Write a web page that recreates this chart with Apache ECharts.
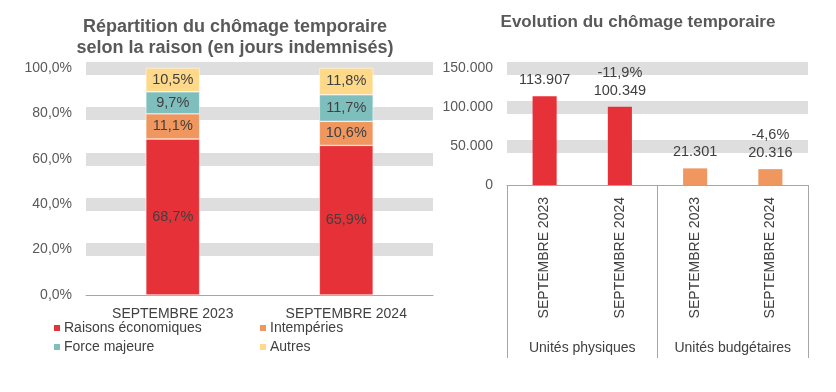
<!DOCTYPE html>
<html><head><meta charset="utf-8">
<script src="https://cdn.jsdelivr.net/npm/echarts@6/dist/echarts.min.js"></script>
<style>html,body{margin:0;padding:0;background:#fff}#c{width:836px;height:392px}</style>
</head><body><div id="c"></div>
<script>
// Left chart data
var leftCategories = ['SEPTEMBRE 2023', 'SEPTEMBRE 2024'];
var seriesNames = ['Raisons économiques', 'Intempéries', 'Force majeure', 'Autres'];
var raisonsEco = [68.7, 65.9];
var intemperies = [11.1, 10.6];
var forceMajeure = [9.7, 11.7];
var autres = [10.5, 11.8];
var seriesColors = ['#E73138', '#F0965F', '#7EBFBE', '#FED98A'];

// Right chart data
var rightCategories = ['SEPTEMBRE 2023', 'SEPTEMBRE 2024', 'SEPTEMBRE 2023', 'SEPTEMBRE 2024'];
var rightGroups = ['Unités physiques', 'Unités budgétaires'];
var rightValues = [113907, 100349, 21301, 20316];
var rightChanges = ['', '-11,9%', '', '-4,6%'];
var rightColors = ['#E73138', '#E73138', '#F0965F', '#F0965F'];

var FONT = '"Liberation Sans", Arial, sans-serif';
var chart = echarts.init(document.getElementById('c'));

function pct(v) { return v.toFixed(1).replace('.', ',') + '%'; }
function thousands(v) { return String(Math.round(v)).replace(/\B(?=(\d{3})+(?!\d))/g, '.'); }

var leftData = [raisonsEco, intemperies, forceMajeure, autres];
var series = leftData.map(function (arr, i) {
  return {
    name: seriesNames[i], type: 'bar', stack: 'a', xAxisIndex: 0, yAxisIndex: 0,
    data: arr, barWidth: '31%',
    itemStyle: { color: seriesColors[i], borderColor: '#fff', borderWidth: 0.5 },
    label: { show: true, position: 'inside', color: '#404040', fontSize: 14.5, fontFamily: FONT,
      formatter: function (p) { return pct(p.value); } }
  };
});
series.push({
  type: 'bar', xAxisIndex: 1, yAxisIndex: 1, barWidth: '32%',
  data: rightValues.map(function (v, i) { return { value: v, itemStyle: { color: rightColors[i] } }; }),
  label: { show: true, position: 'top', distance: 7, color: '#404040', fontSize: 14.5, lineHeight: 18, fontFamily: FONT,
    formatter: function (p) { var c = rightChanges[p.dataIndex]; return (c ? c + '\n' : '') + thousands(p.value); } }
});

var axisLbl = { color: '#595959', fontSize: 14, fontFamily: FONT };
var legendText = { color: '#404040', fontSize: 14, fontFamily: FONT, padding: [0, 0, 0, -2] };
chart.setOption({
  animation: false,
  textStyle: { fontFamily: FONT },
  title: [
    { text: 'Répartition du chômage temporaire\nselon la raison (en jours indemnisés)', left: 230, top: 12, textAlign: 'center',
      textStyle: { fontSize: 18, fontWeight: 'bold', color: '#595959', lineHeight: 21, fontFamily: FONT } },
    { text: 'Evolution du chômage temporaire', left: 633, top: 9, textAlign: 'center',
      textStyle: { fontSize: 17, fontWeight: 'bold', color: '#595959', fontFamily: FONT } }
  ],
  legend: [
    { data: [seriesNames[0], seriesNames[2]], orient: 'vertical', left: 52, top: 321, padding: 0, itemWidth: 8, itemHeight: 8, itemGap: 5,
      icon: 'rect', textStyle: legendText },
    { data: [seriesNames[1], seriesNames[3]], orient: 'vertical', left: 258, top: 321, padding: 0, itemWidth: 8, itemHeight: 8, itemGap: 5,
      icon: 'rect', textStyle: legendText }
  ],
  grid: [
    { left: 86, right: 403, top: 68, bottom: 97 },
    { left: 507, right: 28, top: 68, bottom: 207 }
  ],
  xAxis: [
    { type: 'category', gridIndex: 0, data: leftCategories,
      axisLine: { lineStyle: { color: '#A6A6A6' } }, axisTick: { show: false },
      axisLabel: { color: '#404040', fontSize: 14, fontFamily: FONT, margin: 12 } },
    { type: 'category', gridIndex: 1, data: rightCategories,
      axisLine: { lineStyle: { color: '#A6A6A6' } }, axisTick: { show: false },
      axisLabel: { color: '#404040', fontSize: 14, fontFamily: FONT, rotate: 90, margin: 12, interval: 0 } },
    { type: 'category', gridIndex: 1, data: rightGroups, position: 'bottom',
      axisLine: { show: false },
      axisTick: { show: true, length: 173, interval: 0, lineStyle: { color: '#A6A6A6' } },
      axisLabel: { color: '#404040', fontSize: 14, fontFamily: FONT, margin: 156, interval: 0 } }
  ],
  yAxis: [
    { type: 'value', gridIndex: 0, min: 0, max: 100, interval: 20,
      axisLine: { show: false }, axisTick: { show: false },
      splitLine: { show: true, showMinLine: false, lineStyle: { color: '#DEDEDE', width: 13 } },
      axisLabel: Object.assign({ margin: 14, formatter: function (v) { return pct(v); } }, axisLbl) },
    { type: 'value', gridIndex: 1, min: 0, max: 150000, interval: 50000,
      axisLine: { show: false }, axisTick: { show: false },
      splitLine: { show: true, showMinLine: false, lineStyle: { color: '#DEDEDE', width: 13 } },
      axisLabel: Object.assign({ margin: 14, formatter: function (v) { return thousands(v); } }, axisLbl) }
  ],
  series: series
});
</script></body></html>
